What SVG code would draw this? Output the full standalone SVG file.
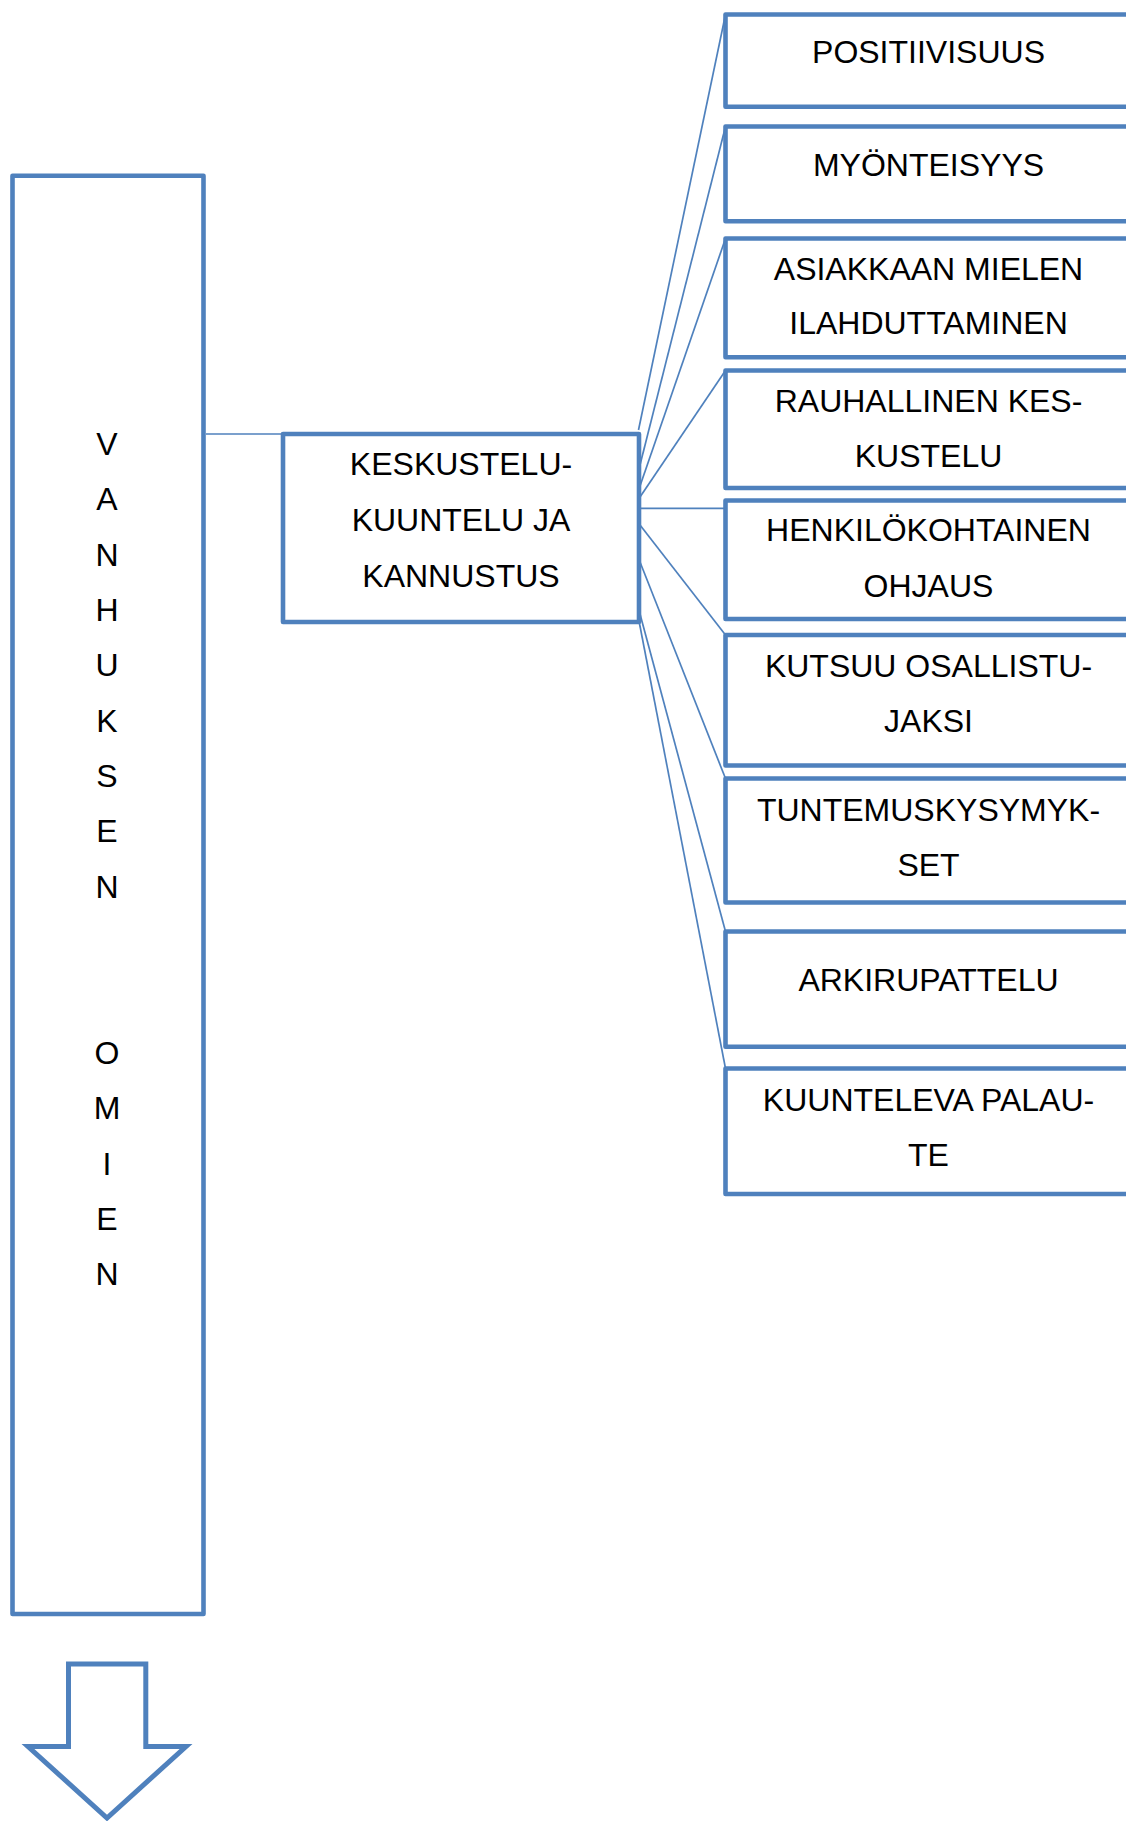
<svg xmlns="http://www.w3.org/2000/svg" width="1126" height="1821" viewBox="0 0 1126 1821">
  <style>
    .box { fill: #ffffff; stroke: #4F81BD; stroke-width: 4.6; stroke-linejoin: round; }
    .link { fill: none; stroke: #4F81BD; stroke-width: 1.7; }
    .label { font-family: "Liberation Sans", Arial, sans-serif; font-size: 32px; fill: #000000; text-anchor: middle; }
  </style>
  <rect width="1126" height="1821" fill="#ffffff"/>

  <!-- connectors -->
  <g id="connectors">
    <line class="link" x1="206" y1="434" x2="283" y2="434"/>
    <line class="link" x1="638.5" y1="430" x2="725.5" y2="14.5"/>
    <line class="link" x1="640" y1="465" x2="725.5" y2="126.5"/>
    <line class="link" x1="640" y1="486" x2="725.5" y2="238.5"/>
    <line class="link" x1="640" y1="497" x2="725.5" y2="370.5"/>
    <line class="link" x1="640" y1="508.3" x2="725.5" y2="508.3"/>
    <line class="link" x1="640" y1="525" x2="725.5" y2="635"/>
    <line class="link" x1="640" y1="562" x2="725.5" y2="778.5"/>
    <line class="link" x1="640" y1="614" x2="725.5" y2="931.5"/>
    <line class="link" x1="639" y1="621" x2="725.5" y2="1068.5"/>
  </g>

  <!-- vertical column -->
  <g id="node-vanhuksen-omien">
    <rect class="box" x="12.5" y="175.8" width="191" height="1438.2"/>
    <text class="label" x="107" y="455">V</text>
    <text class="label" x="107" y="510.3">A</text>
    <text class="label" x="107" y="565.7">N</text>
    <text class="label" x="107" y="621">H</text>
    <text class="label" x="107" y="676.4">U</text>
    <text class="label" x="107" y="731.7">K</text>
    <text class="label" x="107" y="787.1">S</text>
    <text class="label" x="107" y="842.4">E</text>
    <text class="label" x="107" y="897.8">N</text>
    <text class="label" x="107" y="1063.8">O</text>
    <text class="label" x="107" y="1119.2">M</text>
    <text class="label" x="107" y="1174.5">I</text>
    <text class="label" x="107" y="1229.9">E</text>
    <text class="label" x="107" y="1285.2">N</text>
  </g>

  <!-- central node -->
  <g id="node-keskustelu">
    <rect class="box" x="283" y="434" width="356" height="188"/>
    <text class="label" x="461" y="475">KESKUSTELU-</text>
    <text class="label" x="461" y="531">KUUNTELU JA</text>
    <text class="label" x="461" y="587">KANNUSTUS</text>
  </g>

  <!-- right-hand nodes -->
  <g id="node-positiivisuus">
    <rect class="box" x="725.5" y="14.5" width="406" height="92.2"/>
    <text class="label" x="928.5" y="62.7">POSITIIVISUUS</text>
  </g>
  <g id="node-myonteisyys">
    <rect class="box" x="725.5" y="126.5" width="406" height="94.8"/>
    <text class="label" x="928.5" y="176">MYÖNTEISYYS</text>
  </g>
  <g id="node-asiakkaan">
    <rect class="box" x="725.5" y="238.5" width="406" height="118.8"/>
    <text class="label" x="928.5" y="280">ASIAKKAAN MIELEN</text>
    <text class="label" x="928.5" y="334.3">ILAHDUTTAMINEN</text>
  </g>
  <g id="node-rauhallinen">
    <rect class="box" x="725.5" y="370.5" width="406" height="117.5"/>
    <text class="label" x="928.5" y="412.3">RAUHALLINEN KES-</text>
    <text class="label" x="928.5" y="467.3">KUSTELU</text>
  </g>
  <g id="node-henkilokohtainen">
    <rect class="box" x="725.5" y="500.5" width="406" height="118.5"/>
    <text class="label" x="928.5" y="541">HENKILÖKOHTAINEN</text>
    <text class="label" x="928.5" y="596.7">OHJAUS</text>
  </g>
  <g id="node-kutsuu">
    <rect class="box" x="725.5" y="635" width="406" height="130.5"/>
    <text class="label" x="928.5" y="676.7">KUTSUU OSALLISTU-</text>
    <text class="label" x="928.5" y="731.7">JAKSI</text>
  </g>
  <g id="node-tuntemus">
    <rect class="box" x="725.5" y="778.5" width="406" height="124"/>
    <text class="label" x="928.5" y="821">TUNTEMUSKYSYMYK-</text>
    <text class="label" x="928.5" y="876">SET</text>
  </g>
  <g id="node-arkirupattelu">
    <rect class="box" x="725.5" y="931.5" width="406" height="115.2"/>
    <text class="label" x="928.5" y="990.7">ARKIRUPATTELU</text>
  </g>
  <g id="node-kuunteleva">
    <rect class="box" x="725.5" y="1068.5" width="406" height="125.5"/>
    <text class="label" x="928.5" y="1111">KUUNTELEVA PALAU-</text>
    <text class="label" x="928.5" y="1166">TE</text>
  </g>

  <!-- downward block arrow -->
  <g id="arrow-down">
    <polygon points="68.5,1664 145.8,1664 145.8,1746.5 186,1746.5 107,1818 28,1746.5 68.5,1746.5" fill="#ffffff" stroke="#4F81BD" stroke-width="5" stroke-linejoin="miter"/>
  </g>
</svg>
